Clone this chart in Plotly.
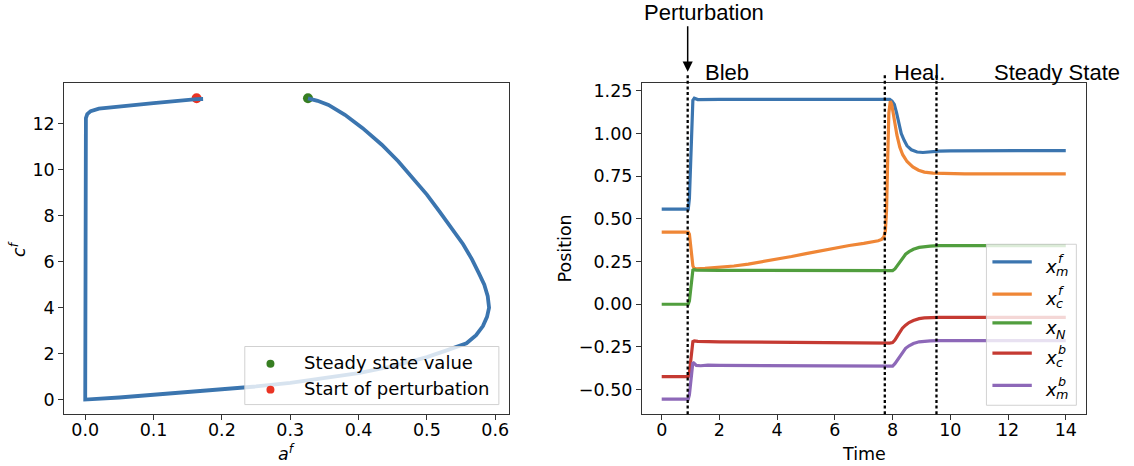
import plotly.graph_objects as go

# ---------------- data ----------------
# phase portrait: a^f vs c^f
af_traj = [0.1725, 0.163, 0.10, 0.05, 0.02, 0.008, 0.003, 0.001, 0.0,
           0.05, 0.10, 0.15, 0.20, 0.25, 0.30, 0.35, 0.40, 0.45, 0.50, 0.53, 0.558,
           0.572, 0.582, 0.588, 0.591, 0.589, 0.584, 0.576, 0.566, 0.553, 0.536, 0.518,
           0.500, 0.479, 0.458, 0.434, 0.406, 0.380, 0.356, 0.340, 0.326]
cf_traj = [13.08, 13.07, 12.90, 12.77, 12.66, 12.55, 12.42, 12.25, 0.0,
           0.09, 0.20, 0.33, 0.45, 0.57, 0.73, 0.92, 1.15, 1.45, 1.85, 2.15, 2.45,
           2.80, 3.20, 3.60, 4.00, 4.50, 5.00, 5.50, 6.10, 6.76, 7.48, 8.20,
           8.92, 9.65, 10.37, 11.09, 11.81, 12.39, 12.82, 13.00, 13.11]
steady_point = (0.326, 13.11)
perturb_point = (0.163, 13.11)

# time courses
t_mf = [0, 0.92, 0.96, 1.0, 1.04, 1.08, 1.13, 1.25, 2, 4, 6, 7.8, 7.9, 7.98, 8.06, 8.14,
        8.22, 8.3, 8.4, 8.5, 8.65, 8.85, 9.05, 9.3, 9.6, 10, 12, 14]
x_mf = [0.557, 0.557, 0.62, 0.85, 1.10, 1.195, 1.207, 1.199, 1.200, 1.199, 1.198, 1.197,
        1.200, 1.190, 1.170, 1.120, 1.060, 1.000, 0.960, 0.928, 0.905, 0.892, 0.889,
        0.893, 0.897, 0.899, 0.900, 0.900]

t_cf = [0, 0.92, 0.96, 1.0, 1.04, 1.08, 1.12, 1.2, 1.5, 2, 2.5, 3, 3.5, 4, 4.5, 5, 5.5,
        6, 6.5, 7, 7.3, 7.5, 7.62, 7.7, 7.75, 7.79, 7.83, 7.87, 7.92, 7.97, 8.02, 8.08,
        8.15, 8.25, 8.35, 8.5, 8.7, 8.9, 9.1, 9.4, 9.8, 10.5, 12, 14]
x_cf = [0.423, 0.423, 0.41, 0.36, 0.28, 0.225, 0.21, 0.207, 0.210, 0.216, 0.224, 0.235,
        0.249, 0.264, 0.280, 0.297, 0.314, 0.330, 0.344, 0.357, 0.365, 0.372, 0.380,
        0.395, 0.43, 0.55, 0.85, 1.12, 1.19, 1.17, 1.12, 1.06, 0.99, 0.92, 0.876, 0.836,
        0.805, 0.785, 0.774, 0.768, 0.765, 0.764, 0.764, 0.764]

t_n = [0, 0.92, 0.96, 1.0, 1.04, 1.08, 1.12, 1.2, 2, 4, 6, 7.9, 8.0, 8.08, 8.17, 8.26,
       8.34, 8.45, 8.57, 8.72, 8.92, 9.1, 9.3, 9.6, 10, 12, 14]
x_n = [0.0, 0.0, 0.02, 0.08, 0.17, 0.20, 0.203, 0.200, 0.199, 0.198, 0.197, 0.196, 0.197,
       0.207, 0.228, 0.252, 0.273, 0.293, 0.308, 0.322, 0.333, 0.338, 0.341, 0.343,
       0.343, 0.343, 0.343]

t_cb = [0, 0.92, 0.96, 1.0, 1.04, 1.08, 1.13, 1.25, 2, 4, 6, 7.9, 8.0, 8.08, 8.17, 8.26,
        8.34, 8.45, 8.57, 8.72, 8.92, 9.1, 9.3, 9.6, 10, 12, 14]
x_cb = [-0.424, -0.424, -0.40, -0.33, -0.25, -0.218, -0.214, -0.217, -0.220, -0.223,
        -0.225, -0.227, -0.224, -0.210, -0.185, -0.160, -0.140, -0.122, -0.107, -0.095,
        -0.084, -0.080, -0.078, -0.077, -0.077, -0.077, -0.077]

t_mb = [0, 0.92, 0.96, 1.0, 1.04, 1.08, 1.12, 1.2, 1.35, 1.6, 2, 4, 6, 7.9, 8.0, 8.08,
        8.17, 8.26, 8.34, 8.45, 8.57, 8.72, 8.92, 9.1, 9.3, 9.6, 10, 12, 14]
x_mb = [-0.555, -0.555, -0.53, -0.45, -0.37, -0.34, -0.345, -0.358, -0.360, -0.357,
        -0.358, -0.360, -0.362, -0.364, -0.362, -0.348, -0.325, -0.300, -0.278, -0.258,
        -0.243, -0.230, -0.220, -0.216, -0.214, -0.213, -0.213, -0.213, -0.213]

phase_times = [0.9, 7.73, 9.52]          # perturbation, heal start, steady state
phase_labels = ["Bleb", "Heal.", "Steady State"]

series_names = ["m|f", "c|f", "N|", "c|b", "m|b"]   # subscript|superscript
series_colors = ["#3b75af", "#ef8636", "#519e3e", "#c53a32", "#8d68b8"]

x_ticks_left = [0.0, 0.1, 0.2, 0.3, 0.4, 0.5, 0.6]
y_ticks_left = [0, 2, 4, 6, 8, 10, 12]
x_ticks_right = [0, 2, 4, 6, 8, 10, 12, 14]
y_ticks_right = [-0.5, -0.25, 0.0, 0.25, 0.5, 0.75, 1.0, 1.25]

# ---------------- layout helpers ----------------
W, H = 1134, 466


def px(x):
    return x / W


def py(y):
    return 1 - y / H


TICK_FONT = dict(family="DejaVu Sans", size=17.5, color="black")
TEXT_FONT = dict(family="Liberation Sans, Arial", size=22, color="black")
LEG_FONT = dict(family="DejaVu Sans", size=18, color="black")
AX_COLOR = "#333333"

fig = go.Figure()

# ---- left panel ----
fig.add_trace(go.Scatter(x=[steady_point[0]], y=[steady_point[1]], mode="markers",
                         marker=dict(color="#377e22", size=10), showlegend=False,
                         xaxis="x", yaxis="y"))
fig.add_trace(go.Scatter(x=[perturb_point[0]], y=[perturb_point[1]], mode="markers",
                         marker=dict(color="#ea3323", size=10), showlegend=False,
                         xaxis="x", yaxis="y"))
fig.add_trace(go.Scatter(x=af_traj, y=cf_traj, mode="lines",
                         line=dict(color="#3b75af", width=3.8),
                         showlegend=False, xaxis="x", yaxis="y"))

# ---- right panel ----
for tt, vv, col in zip([t_mf, t_cf, t_n, t_cb, t_mb], [x_mf, x_cf, x_n, x_cb, x_mb],
                       series_colors):
    fig.add_trace(go.Scatter(x=tt, y=vv, mode="lines", line=dict(color=col, width=3.2),
                             showlegend=False, xaxis="x2", yaxis="y2"))

PLOT_TOP, PLOT_BOT = 81.7, 414.0

common_axis = dict(showline=True, mirror=True, linecolor=AX_COLOR, linewidth=1,
                   ticks="outside", ticklen=5, tickwidth=1, tickcolor=AX_COLOR,
                   showgrid=False, zeroline=False, tickfont=TICK_FONT)


def fmt(v, nd):
    s = f"{abs(v):.{nd}f}"
    return ("\u2212" + s) if v < 0 else s


fig.update_layout(
    width=W, height=H, margin=dict(l=0, r=0, t=0, b=0),
    paper_bgcolor="white", plot_bgcolor="white", showlegend=False,
    xaxis=dict(domain=[px(64.3), px(509.0)], range=[-0.0307, 0.6195], anchor="y",
               tickvals=x_ticks_left, ticktext=[fmt(v, 1) for v in x_ticks_left],
               ticklabelstandoff=-5, **common_axis),
    yaxis=dict(domain=[py(PLOT_BOT), py(PLOT_TOP)], range=[-0.637, 13.76], anchor="x",
               tickvals=y_ticks_left, ticktext=[str(v) for v in y_ticks_left],
               **common_axis),
    xaxis2=dict(domain=[px(642.5), px(1086.5)], range=[-0.685, 14.685], anchor="y2",
                tickvals=x_ticks_right, ticktext=[str(v) for v in x_ticks_right],
                ticklabelstandoff=-5, **common_axis),
    yaxis2=dict(domain=[py(PLOT_BOT), py(PLOT_TOP)], range=[-0.644, 1.294], anchor="x2",
                tickvals=y_ticks_right, ticktext=[fmt(v, 2) for v in y_ticks_right],
                **common_axis),
)

shapes = []
ann = []

# phase boundaries (dotted), extending slightly above the axes
for tv in phase_times:
    shapes.append(dict(type="line", xref="x2", yref="paper", x0=tv, x1=tv,
                       y0=py(PLOT_BOT), y1=py(71), layer="above",
                       line=dict(color="black", width=2.3, dash="3px,2.6px")))

# phase labels
label_lefts = [704.9, 893.6, 994.0]
for lbl, lx in zip(phase_labels, label_lefts):
    ann.append(dict(text=lbl, xref="paper", yref="paper", x=px(lx), y=py(70.6),
                    xanchor="left", yanchor="middle", showarrow=False, font=TEXT_FONT,
                    borderpad=0))
ann.append(dict(text="Perturbation", xref="paper", yref="paper", x=px(643.3), y=py(10.1),
                xanchor="left", yanchor="middle", showarrow=False, font=TEXT_FONT,
                borderpad=0))
# arrow pointing at the perturbation time
ann.append(dict(text="", xref="x2", yref="paper", x=phase_times[0], y=py(70),
                ax=0, ay=-47, axref="pixel", ayref="pixel", showarrow=True,
                arrowhead=2, arrowsize=1.35, arrowwidth=1.5, arrowcolor="black",
                standoff=0, startstandoff=0))

# axis titles
ann.append(dict(text="Time", xref="paper", yref="paper", x=px(864.5), y=py(453.5),
                xanchor="center", yanchor="middle", showarrow=False, font=TICK_FONT))
ann.append(dict(text="Position", xref="paper", yref="paper", x=px(565), y=py(248),
                xanchor="center", yanchor="middle", showarrow=False, font=TICK_FONT,
                textangle=-90))
ann.append(dict(text="<i>a</i><sup><i>f</i></sup>", xref="paper", yref="paper",
                x=px(287), y=py(453), xanchor="center", yanchor="middle",
                showarrow=False, font=TICK_FONT))
ann.append(dict(text="<i>c</i><sup><i>f</i></sup>", xref="paper", yref="paper",
                x=px(18), y=py(248), xanchor="center", yanchor="middle",
                showarrow=False, font=TICK_FONT, textangle=-90))

# ---- legend, right panel ----
shapes.append(dict(type="rect", xref="paper", yref="paper", x0=px(987.3), x1=px(1077.3),
                   y0=py(405), y1=py(243.3), layer="above",
                   fillcolor="rgba(255,255,255,0.8)",
                   line=dict(color="rgba(204,204,204,0.9)", width=1)))
row_y = [261, 293.3, 322.3, 352.7, 385]
sub_font = dict(family="DejaVu Sans", size=12.7, color="black", style="italic")
x_font = dict(family="DejaVu Sans", size=18, color="black", style="italic")
for ry, name, col in zip(row_y, series_names, series_colors):
    sub, sup = name.split("|")
    shapes.append(dict(type="line", xref="paper", yref="paper", x0=px(993.3), x1=px(1032.7),
                       y0=py(ry), y1=py(ry), layer="above",
                       line=dict(color=col, width=3.2)))
    ann.append(dict(text="x", xref="paper", yref="paper", x=px(1044.7), y=py(ry + 4.4),
                    xanchor="left", yanchor="middle", showarrow=False, font=x_font,
                    borderpad=0))
    sub_dy = 11.5 if not sup else 9.6
    ann.append(dict(text=sub, xref="paper", yref="paper", x=px(1056.2), y=py(ry + sub_dy),
                    xanchor="left", yanchor="middle", showarrow=False, font=sub_font,
                    borderpad=0))
    if sup:
        ann.append(dict(text=sup, xref="paper", yref="paper", x=px(1057.5), y=py(ry - 3.7),
                        xanchor="left", yanchor="middle", showarrow=False, font=sub_font,
                        borderpad=0))

# ---- legend, left panel ----
shapes.append(dict(type="rect", xref="paper", yref="paper", x0=px(245), x1=px(499.3),
                   y0=py(404.3), y1=py(346), layer="above",
                   fillcolor="rgba(255,255,255,0.8)",
                   line=dict(color="rgba(204,204,204,0.9)", width=1)))
for ry, lbl, col in zip([363.3, 389.3], ["Steady state value", "Start of perturbation"],
                        ["#377e22", "#ea3323"]):
    r = 4.0
    shapes.append(dict(type="circle", xref="paper", yref="paper",
                       x0=px(270.7 - r), x1=px(270.7 + r), y0=py(ry + r), y1=py(ry - r),
                       layer="above", fillcolor=col, line=dict(color=col, width=0)))
    ann.append(dict(text=lbl, xref="paper", yref="paper", x=px(303.5), y=py(ry - 1.5),
                    xanchor="left", yanchor="middle", showarrow=False, font=LEG_FONT,
                    borderpad=0))

fig.update_layout(shapes=shapes, annotations=ann)
fig.write_html("out.html")
